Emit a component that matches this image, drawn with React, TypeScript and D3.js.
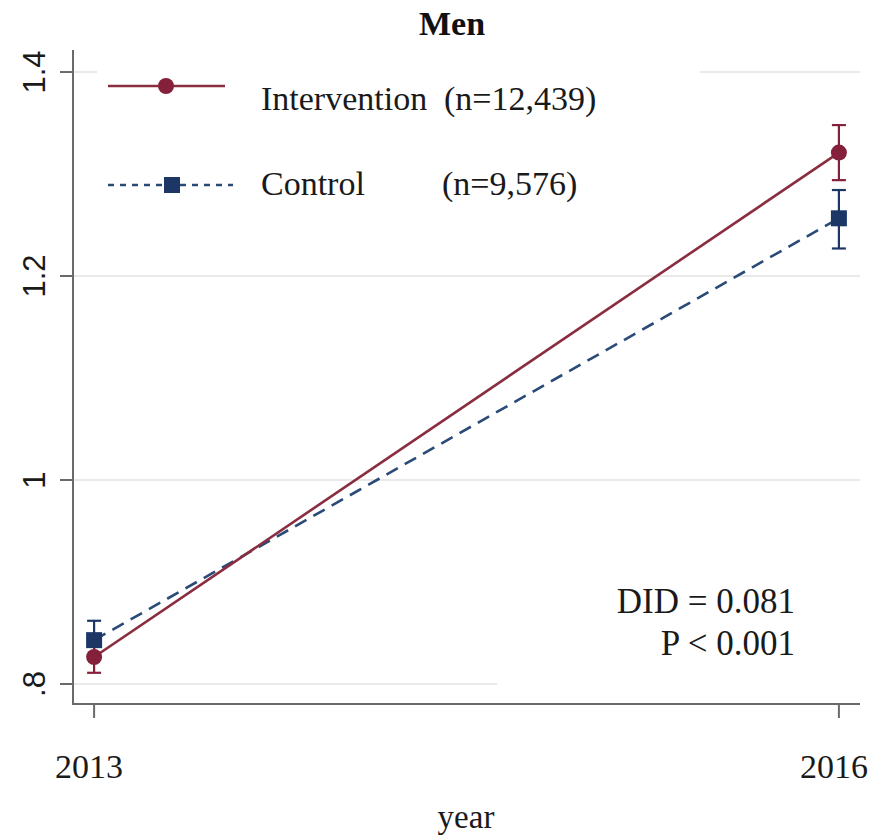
import React from "react";
import * as d3 from "d3";

const years = [2013, 2016];
const interventionMean = [0.8265, 1.321];
const interventionLow = [0.811, 1.294];
const interventionHigh = [0.842, 1.348];
const controlMean = [0.843, 1.2566];
const controlLow = [0.825, 1.227];
const controlHigh = [0.862, 1.2843];
const yTicks = [0.8, 1, 1.2, 1.4];
const yTickLabels = [".8", "1", "1.2", "1.4"];
const legendLabels = ["Intervention", "Control"];
const legendNs = ["(n=12,439)", "(n=9,576)"];
const title = "Men";
const xTitle = "year";
const annot = ["DID = 0.081", "P < 0.001"];

const W = 870;
const H = 835;
const RED = "#84203a";
const BLUE = "#1c3766";
const SERIF = "'Liberation Serif', 'Times New Roman', serif";
const SANS = "'Liberation Sans', Arial, sans-serif";

export default function App() {
  const x = d3.scaleLinear().domain([2012.915, 2016.085]).range([73, 860]);
  const y = d3.scaleLinear().domain([0.7804, 1.4216]).range([704, 50]);
  const line = d3
    .line<number>()
    .x((_, i) => x(years[i]))
    .y((d) => y(d));

  const capW = 7;
  const errBars = (low: number[], high: number[], color: string, key: string) =>
    years.map((yr, i) => (
      <g key={key + i} stroke={color} strokeWidth={2.2}>
        <line x1={x(yr)} x2={x(yr)} y1={y(low[i])} y2={y(high[i])} />
        <line x1={x(yr) - capW} x2={x(yr) + capW} y1={y(low[i])} y2={y(low[i])} />
        <line x1={x(yr) - capW} x2={x(yr) + capW} y1={y(high[i])} y2={y(high[i])} />
      </g>
    ));

  return (
    <svg
      width={W}
      height={H}
      style={{ position: "absolute", left: 0, top: 0, background: "#fff" }}
    >
      <rect x={0} y={0} width={W} height={H} fill="#fff" />
      {/* gridlines */}
      {yTicks.map((t) => (
        <line key={"g" + t} x1={74} x2={860} y1={y(t)} y2={y(t)} stroke="#e9e9e9" strokeWidth={2} />
      ))}
      {/* boxes hiding gridlines under legend/annotation */}
      <rect x={97} y={55} width={603} height={160} fill="#fff" />
      <rect x={497} y={570} width={363} height={125} fill="#fff" />

      {/* axes */}
      <line x1={73} x2={73} y1={50} y2={705} stroke="#6a6a6a" strokeWidth={2} />
      <line x1={72} x2={860} y1={704} y2={704} stroke="#6a6a6a" strokeWidth={2} />
      {yTicks.map((t, i) => (
        <g key={"yt" + t}>
          <line x1={60} x2={73} y1={y(t)} y2={y(t)} stroke="#6a6a6a" strokeWidth={2} />
          <text
            transform={`translate(45,${y(t)}) rotate(-90)`}
            textAnchor="middle"
            fontFamily={SANS}
            fontSize={31}
            fill="#1a1a1a"
          >
            {yTickLabels[i]}
          </text>
        </g>
      ))}
      {years.map((yr) => (
        <g key={"xt" + yr}>
          <line x1={x(yr)} x2={x(yr)} y1={704} y2={718} stroke="#6a6a6a" strokeWidth={2} />
          <text
            x={x(yr) - 5}
            y={778}
            textAnchor="middle"
            fontFamily={SERIF}
            fontSize={34}
            fill="#1a1a1a"
          >
            {yr}
          </text>
        </g>
      ))}
      <text x={466} y={828} textAnchor="middle" fontFamily={SERIF} fontSize={33} fill="#1a1a1a">
        {xTitle}
      </text>
      <text x={452} y={35} textAnchor="middle" fontFamily={SERIF} fontWeight="bold" fontSize={34} fill="#111">
        {title}
      </text>

      {/* error bars */}
      {errBars(controlLow, controlHigh, BLUE, "ce")}
      {errBars(interventionLow, interventionHigh, RED, "ie")}

      {/* lines */}
      <path d={line(controlMean) || ""} fill="none" stroke="#2a4a78" strokeWidth={2.6} strokeDasharray="13,8" />
      <path d={line(interventionMean) || ""} fill="none" stroke="#8a2d40" strokeWidth={2.6} />

      {/* markers */}
      {years.map((yr, i) => (
        <rect
          key={"cm" + i}
          x={x(yr) - 8}
          y={y(controlMean[i]) - 8}
          width={16}
          height={16}
          fill={BLUE}
        />
      ))}
      {years.map((yr, i) => (
        <circle key={"im" + i} cx={x(yr)} cy={y(interventionMean[i])} r={8} fill={RED} />
      ))}

      {/* legend */}
      <line x1={108} x2={225} y1={86} y2={86} stroke="#8a2d40" strokeWidth={2.6} />
      <circle cx={166} cy={86} r={8} fill={RED} />
      <line x1={108} x2={233} y1={185} y2={185} stroke="#2a4a78" strokeWidth={2.6} strokeDasharray="6,6" />
      <rect x={164} y={177} width={16} height={16} fill={BLUE} />
      {legendLabels.map((l, i) => (
        <g key={"lg" + i}>
          <text x={261} y={110 + i * 85} fontFamily={SERIF} fontSize={34} fill="#1a1a1a">
            {l}
          </text>
          <text x={i === 0 ? 444 : 442} y={110 + i * 85} fontFamily={SERIF} fontSize={34} fill="#1a1a1a">
            {legendNs[i]}
          </text>
        </g>
      ))}

      {/* annotation */}
      {annot.map((a, i) => (
        <text
          key={"an" + i}
          x={795}
          y={613 + i * 42}
          textAnchor="end"
          fontFamily={SERIF}
          fontSize={35}
          fill="#1a1a1a"
        >
          {a}
        </text>
      ))}
    </svg>
  );
}
